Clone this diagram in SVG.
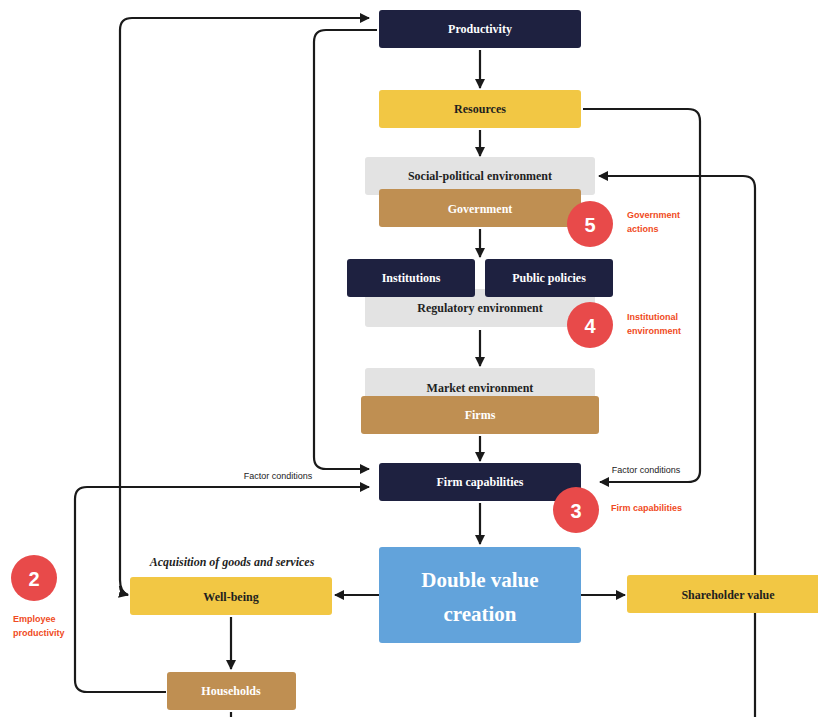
<svg xmlns="http://www.w3.org/2000/svg" width="818" height="717" viewBox="0 0 818 717">
<defs>
<marker id="ah" viewBox="0 0 10 10" refX="9" refY="5" markerWidth="10" markerHeight="10" markerUnits="userSpaceOnUse" orient="auto">
<path d="M0,0 L10,5 L0,10 z" fill="#1a1a1a"/>
</marker>
<style>
.n{font-family:"Liberation Serif",serif;font-weight:bold;font-size:12px;text-anchor:middle;dominant-baseline:central}
.w{fill:#ffffff}
.d{fill:#1f1f1f}
.navy{fill:#1e2140}
.yel{fill:#f2c744}
.brn{fill:#bf8f52}
.gry{fill:#e3e3e3}
.c{fill:none;stroke:#1a1a1a;stroke-width:2.2}
.badge{fill:#e84a4a}
.bn{font-family:"Liberation Sans",Arial,sans-serif;font-weight:bold;font-size:20px;fill:#fff;text-anchor:middle;dominant-baseline:central}
.lab{font-family:"Liberation Sans",Arial,sans-serif;font-weight:bold;font-size:9px;fill:#f04a23}
.fc{font-family:"Liberation Sans",Arial,sans-serif;font-size:9px;fill:#222}
</style>
</defs>
<rect width="818" height="717" fill="#ffffff"/>

<g id="connectors">
<path class="c" d="M480,50 V88" marker-end="url(#ah)"/>
<path class="c" d="M480,130 V156" marker-end="url(#ah)"/>
<path class="c" d="M480,229 V257" marker-end="url(#ah)"/>
<path class="c" d="M480,330 V366" marker-end="url(#ah)"/>
<path class="c" d="M480,436 V461" marker-end="url(#ah)"/>
<path class="c" d="M480,503 V544" marker-end="url(#ah)"/>
<path class="c" d="M581,595 H625" marker-end="url(#ah)"/>
<path class="c" d="M379,595 H335" marker-end="url(#ah)"/>
<path class="c" d="M231,617 V669" marker-end="url(#ah)"/>
<path class="c" d="M231,712 V717"/>
<path class="c" d="M377,30 H326 Q314,30 314,42 V457 Q314,469 326,469 H369" marker-end="url(#ah)"/>
<path class="c" d="M128,595 Q120,592 120,580 V30 Q120,18 132,18 H369" marker-end="url(#ah)"/>
<path class="c" d="M120,586 Q120,593 128,595" marker-end="url(#ah)"/>
<path class="c" d="M166,692 H87 Q75,692 75,680 V499 Q75,487 87,487 H369" marker-end="url(#ah)"/>
<path class="c" d="M583,109 H688 Q700,109 700,121 V471 Q700,482 688,482 H600" marker-end="url(#ah)"/>
<path class="c" d="M755,717 V188 Q755,176 743,176 H599" marker-end="url(#ah)"/>
<text class="fc" x="278" y="479" text-anchor="middle">Factor conditions</text>
<text class="fc" x="646" y="473" text-anchor="middle">Factor conditions</text>
</g>

<g id="productivity"><rect class="navy" x="379" y="10" width="202" height="38" rx="3"/><text class="n w" x="480" y="29">Productivity</text></g>
<g id="resources"><rect class="yel" x="379" y="90" width="202" height="38" rx="3"/><text class="n d" x="480" y="109">Resources</text></g>
<g id="social-political"><rect class="gry" x="365" y="157" width="230" height="38" rx="3"/><text class="n d" x="480" y="176">Social-political environment</text></g>
<g id="government"><rect class="brn" x="379" y="189" width="202" height="38" rx="3"/><text class="n w" x="480" y="209">Government</text></g>
<g id="regulatory"><rect class="gry" x="365" y="289" width="230" height="38" rx="3"/><text class="n d" x="480" y="308">Regulatory environment</text></g>
<g id="institutions"><rect class="navy" x="347" y="259" width="128" height="38" rx="3"/><text class="n w" x="411" y="278">Institutions</text></g>
<g id="public-policies"><rect class="navy" x="485" y="259" width="128" height="38" rx="3"/><text class="n w" x="549" y="278">Public policies</text></g>
<g id="market"><rect class="gry" x="365" y="368" width="230" height="38" rx="3"/><text class="n d" x="480" y="388">Market environment</text></g>
<g id="firms"><rect class="brn" x="361" y="396" width="238" height="38" rx="3"/><text class="n w" x="480" y="415">Firms</text></g>
<g id="firm-capabilities"><rect class="navy" x="379" y="463" width="202" height="38" rx="3"/><text class="n w" x="480" y="482">Firm capabilities</text></g>
<g id="double-value"><rect fill="#62a3db" x="379" y="547" width="202" height="96" rx="3"/><text class="n w" x="480" y="580" style="font-size:21px">Double value</text><text class="n w" x="480" y="614" style="font-size:21px">creation</text></g>
<g id="shareholder"><rect class="yel" x="627" y="575" width="193" height="38" rx="3"/><text class="n d" x="728" y="595">Shareholder value</text></g>
<g id="well-being"><text x="232" y="566" style="font-family:'Liberation Serif',serif;font-style:italic;font-weight:bold;font-size:12px;text-anchor:middle" fill="#1f1f1f">Acquisition of goods and services</text><rect class="yel" x="130" y="577" width="202" height="38" rx="3"/><text class="n d" x="231" y="597">Well-being</text></g>
<g id="households"><rect class="brn" x="167" y="672" width="129" height="38" rx="3"/><text class="n w" x="231" y="691">Households</text></g>

<g id="badge5"><circle class="badge" cx="590" cy="224" r="23"/><text class="bn" x="590" y="225">5</text><text class="lab" x="627" y="218">Government</text><text class="lab" x="627" y="232">actions</text></g>
<g id="badge4"><circle class="badge" cx="590" cy="325" r="23"/><text class="bn" x="590" y="326">4</text><text class="lab" x="627" y="320">Institutional</text><text class="lab" x="627" y="334">environment</text></g>
<g id="badge3"><circle class="badge" cx="576" cy="510" r="23"/><text class="bn" x="576" y="511">3</text><text class="lab" x="611" y="511">Firm capabilities</text></g>
<g id="badge2"><circle class="badge" cx="34" cy="578" r="23"/><text class="bn" x="34" y="579">2</text><text class="lab" x="13" y="622">Employee</text><text class="lab" x="13" y="636">productivity</text></g>
</svg>
